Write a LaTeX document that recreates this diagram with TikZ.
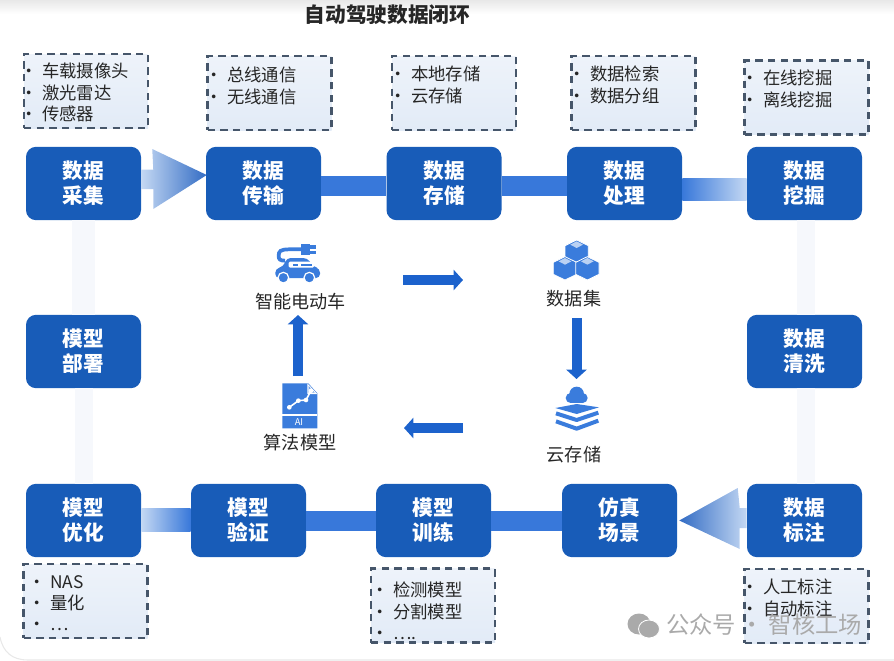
\documentclass[tikz,border=0pt]{standalone}
\usepackage{fontspec}
\setmainfont{Noto Sans CJK SC}
\usetikzlibrary{arrows.meta,calc}
\definecolor{StepBlue}{RGB}{24,92,184}
\definecolor{BandBlue}{RGB}{56,120,218}
\definecolor{BandPale}{RGB}{196,216,243}
\definecolor{IconBlue}{RGB}{58,124,220}
\definecolor{ArrowBlue}{RGB}{28,98,204}
\definecolor{PanelTop}{RGB}{238,243,250}
\definecolor{PanelLow}{RGB}{226,235,247}
\definecolor{PanelEdge}{RGB}{70,86,106}
\definecolor{SideFog}{RGB}{246,248,252}
\definecolor{FrameGray}{RGB}{232,232,232}
\definecolor{MarkGray}{RGB}{170,170,170}
\tikzset{
  stepbox/.style={fill=StepBlue,rounded corners=7.5pt,minimum width=86.25pt,minimum height=55pt,
    inner sep=0pt,text=white,align=center,font=\fontsize{15.5}{18.75}\selectfont\bfseries},
  panel/.style={draw=PanelEdge,line width=1.6pt,dash pattern=on 5.5pt off 4pt,top color=PanelTop,
    bottom color=PanelLow,minimum width=93pt,minimum height=55.5pt,inner sep=0pt},
  paneltext/.style={anchor=north west,inner sep=0pt,align=left,text=black!85,
    font=\fontsize{13}{16}\selectfont},
  caption/.style={text=black!85,inner sep=0pt,font=\fontsize{13.6}{16}\selectfont},
  band/.style={BandBlue,line width=15pt},
  flow/.style={ArrowBlue,line width=7.5pt,-{Triangle[length=7pt,width=15pt]}}
}
\newcommand{\listdot}{\makebox[10pt][l]{\kern-6.5pt\textbullet}}
\newcommand{\cubeblock}[2]{%
  \filldraw[IconBlue,draw=white,line width=.6pt] (#1,#2-35)--++(35,17)--++(0,36)--++(-35,17)--++(-35,-17)--++(0,-36)--cycle;
  \fill[IconBlue!35] (#1,#2-31)--++(19,10)--++(-19,10)--++(-19,-10)--cycle;}
\begin{document}
\begin{tikzpicture}[x=.75pt,y=-.75pt]
  \useasboundingbox (0,0) rectangle (894,661);
  % page edge
  \shade[top color=FrameGray,bottom color=white] (0,0) rectangle (894,14);
  \draw[FrameGray,line width=.8pt] (0,637) .. controls (3,652) and (12,660) .. (28,660) -- (894,660);

  \node[font=\fontsize{15.5}{18}\selectfont\bfseries,text=black!85,inner sep=0pt] (title) at (387.5,15) {自动驾驶数据闭环};

  % process steps
  \node[stepbox] (collect) at (83.5,183.5) {数据\\采集};
  \node[stepbox] (transfer) at (263.5,183.5) {数据\\传输};
  \node[stepbox] (store) at (444,183.5) {数据\\存储};
  \node[stepbox] (process) at (624.5,183.5) {数据\\处理};
  \node[stepbox] (mine) at (804.5,183.5) {数据\\挖掘};
  \node[stepbox] (deploy) at (83.5,351.5) {模型\\部署};
  \node[stepbox] (clean) at (804.5,351.5) {数据\\清洗};
  \node[stepbox] (optimize) at (83.5,520.5) {模型\\优化};
  \node[stepbox] (validate) at (248.5,520.5) {模型\\验证};
  \node[stepbox] (train) at (433.5,520.5) {模型\\训练};
  \node[stepbox] (simulate) at (619.5,520.5) {仿真\\场景};
  \node[stepbox] (annotate) at (804.5,520.5) {数据\\标注};

  % connectors
  \draw[band] ([yshift=-2pt]transfer.east) -- ([yshift=-2pt]store.west);
  \draw[band] ([yshift=-2pt]store.east) -- ([yshift=-2pt]process.west);
  \draw[band] (validate.east) -- (train.west);
  \draw[band] (train.east) -- (simulate.west);
  \shade[left color=BandBlue,right color=BandPale] ($(process.east)+(0,-5.5)$) rectangle ($(mine.west)+(0,16.5)$);
  \shade[left color=BandPale,right color=BandBlue] ($(optimize.east)+(0,-12.5)$) rectangle ($(validate.west)+(0,10.5)$);
  \shade[left color=BandPale,right color=BandBlue!90!black]
    ($(collect.east)+(0,-14)$) -- ($(collect.east)+(12,-14)$) -- ($(collect.east)+(11,-34.5)$)
    -- ($(transfer.west)+(1,-8.5)$) -- ($(collect.east)+(12,25.5)$) -- ($(collect.east)+(12,5.5)$)
    -- ($(collect.east)+(0,5.5)$) -- cycle;
  \shade[left color=BandBlue!90!black,right color=BandPale]
    ($(annotate.west)+(0,-12.5)$) -- ($(annotate.west)+(-7,-12.5)$) -- ($(annotate.west)+(-9,-32.5)$)
    -- ($(simulate.east)+(2,0)$) -- ($(annotate.west)+(-7,28.5)$) -- ($(annotate.west)+(-7,7.5)$)
    -- ($(annotate.west)+(0,7.5)$) -- cycle;
  \fill[SideFog] ($(collect.south)+(-11.5,0)$) rectangle ($(deploy.north)+(11.5,0)$);
  \fill[SideFog] ($(deploy.south)+(-9,0)$) rectangle ($(optimize.north)+(9,0)$);
  \fill[SideFog] ($(mine.south)+(-8,0)$) rectangle ($(clean.north)+(10,0)$);
  \fill[SideFog] ($(clean.south)+(-8,0)$) rectangle ($(annotate.north)+(10,0)$);

  % dashed panels
  \node[panel] (collectpanel) at (86,91) {};
  \node[panel] (transferpanel) at (269.5,93) {};
  \node[panel] (storepanel) at (454,93) {};
  \node[panel] (processpanel) at (633.5,93) {};
  \node[panel] (minepanel) at (806.5,97.5) {};
  \node[panel] (optimizepanel) at (85.5,601) {};
  \node[panel] (trainpanel) at (433,605.5) {};
  \node[panel] (annotatepanel) at (806.5,606) {};
  \node[paneltext] (collectlist) at (28.7,63) {\listdot 车载摄像头\\\listdot 激光雷达\\\listdot 传感器};
  \node[paneltext] (transferlist) at (213.7,67) {\listdot 总线通信\\\listdot 无线通信};
  \node[paneltext] (storelist) at (397.7,66) {\listdot 本地存储\\\listdot 云存储};
  \node[paneltext] (processlist) at (576.7,66) {\listdot 数据检索\\\listdot 数据分组};
  \node[paneltext] (minelist) at (749.7,70) {\listdot 在线挖掘\\\listdot 离线挖掘};
  \node[paneltext] (optimizelist) at (36.7,575) {\listdot NAS\\\listdot 量化\\\listdot …};
  \node[paneltext] (trainlist) at (379.7,582) {\listdot 检测模型\\\listdot 分割模型\\\listdot ….};
  \node[paneltext] (annotatelist) at (749.7,579) {\listdot 人工标注\\\listdot 自动标注};

  % centre loop
  \node[caption] (carlabel) at (300.5,302) {智能电动车};
  \node[caption] (cubelabel) at (574,299) {数据集};
  \node[caption] (cloudlabel) at (574,455) {云存储};
  \node[caption] (modellabel) at (300,443) {算法模型};
  \coordinate (carout) at (403,280);
  \coordinate (cubein) at (463,280);
  \coordinate (cubeout) at (576.5,318);
  \coordinate (cloudin) at (576.5,379);
  \coordinate (cloudout) at (463,428);
  \coordinate (modelin) at (404,428);
  \coordinate (modelout) at (298,376);
  \coordinate (carin) at (298,315);
  \draw[flow] (carout) -- (cubein);
  \draw[flow] (cubeout) -- (cloudin);
  \draw[flow] (cloudout) -- (modelin);
  \draw[flow] (modelout) -- (carin);

  % icons
  \begin{scope}[shift={(230,230)},x=.25pt,y=-.25pt]
    % car
    \draw[IconBlue,line width=2.8pt] (220,58) -- (178,58) .. controls (150,58) and (146,64) .. (146,78) .. controls (146,88) and (150,92) .. (165,92);
    \fill[IconBlue] (212,43) rectangle (240,75);
    \fill[IconBlue] (238,46) rectangle (258,56);
    \fill[IconBlue] (238,62) rectangle (258,72);
    \fill[IconBlue,rounded corners=3pt] (136,144) -- (136,116) -- (160,110) -- (170,84) -- (232,84) -- (250,110) -- (270,116) -- (270,144) -- cycle;
    \fill[white,rounded corners=1pt] (176,95) rectangle (252,113);
    \fill[IconBlue] (190,102) rectangle (205,107);
    \fill[IconBlue] (212,102) rectangle (245,107);
    \filldraw[IconBlue,draw=white,line width=.9pt] (160,143) circle (16);
    \filldraw[IconBlue,draw=white,line width=.9pt] (238,143) circle (16);
    % cubes
    \cubeblock{1040}{65}
    \cubeblock{1005}{115}
    \cubeblock{1072}{115}
    % cloud and layers
    \fill[IconBlue] (1040,492) circle (22);
    \fill[IconBlue] (1022,504) circle (15);
    \fill[IconBlue] (1058,504) circle (15);
    \fill[IconBlue] (1020,500) rectangle (1060,519);
    \fill[IconBlue] (976,534) -- (1040,522) -- (1107,532) -- (1040,552) -- cycle;
    \draw[IconBlue,line width=3pt,line join=round] (978,550) -- (1040,570) -- (1105,548);
    \draw[IconBlue,line width=3pt,line join=round] (978,574) -- (1040,596) -- (1105,572);
    % model file
    \fill[IconBlue] (157,460) -- (235,460) -- (262,490) -- (262,595) -- (157,595) -- cycle;
    \fill[white] (232,460) -- (232,492) -- (262,492) -- cycle;
    \fill[IconBlue!70] (236,468) -- (236,488) -- (254,488) -- cycle;
    \fill[white] (157,552) rectangle (262,557);
    \draw[white,line width=1.2pt] (178,532) -- (205,512) -- (228,510) -- (243,482);
    \fill[white] (178,532) circle (7);
    \fill[white] (205,512) circle (7);
    \fill[white] (228,510) circle (7);
    \fill[white] (243,482) circle (7);
    \node[text=white,inner sep=0pt,font=\fontsize{7}{8}\selectfont] (ailabel) at (207,575) {AI};
  \end{scope}

  % watermark
  \fill[MarkGray] (639,624) ellipse (11.5 and 10.5);
  \filldraw[MarkGray,draw=white,line width=.6pt] (649,629) ellipse (10.5 and 9);
  \node[text=MarkGray,inner sep=0pt,anchor=west,font=\fontsize{17.5}{20}\selectfont] (mark) at (666,625) {公众号\hspace{3.5pt}·\hspace{3.5pt}智核工场};
\end{tikzpicture}
\end{document}
